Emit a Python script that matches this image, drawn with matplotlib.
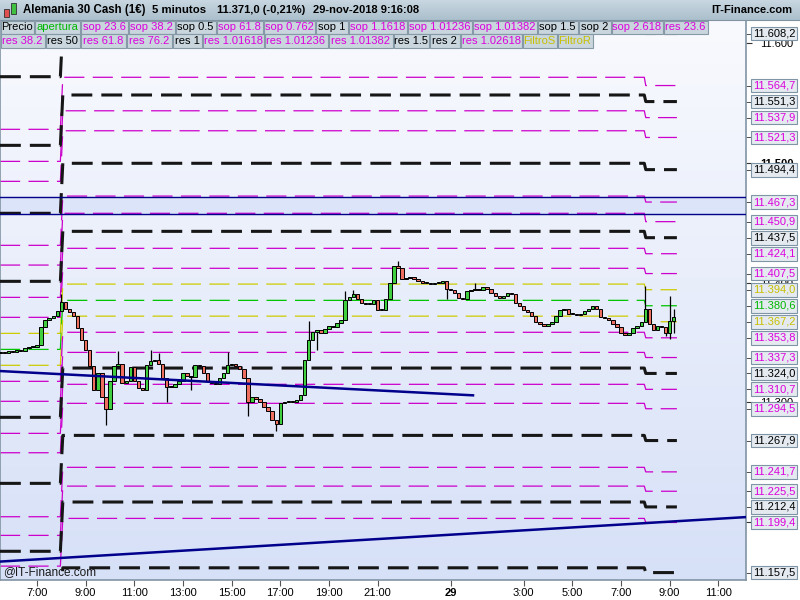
import numpy as np
import matplotlib
matplotlib.use("Agg")
import matplotlib.pyplot as plt
from matplotlib.colors import LinearSegmentedColormap
from matplotlib.patches import Rectangle
from matplotlib.transforms import blended_transform_factory

plt.rcParams['font.family'] = ['Liberation Sans', 'DejaVu Sans']
plt.rcParams['lines.scale_dashes'] = False

# 10 minute closes, 28-nov 5:30 -> 29-nov 9:10 (hours counted from 28-nov 0:00)
bar_start = 5.5
first_open = 11341
closes = [
    11342, 11341, 11343, 11342, 11344, 11343, 11345, 11346, 11346, 11348, 11363, 11369, 11370, 11372, 11376,
    11384, 11378, 11375, 11372, 11362, 11352,
    11344, 11330, 11310, 11324, 11304, 11294,
    11318, 11330, 11332, 11316, 11318, 11329,
    11318, 11312, 11310, 11331, 11334, 11335,
    11332, 11320, 11313, 11313, 11315, 11318,
    11324, 11322, 11321, 11331, 11330, 11324,
    11318, 11316, 11315, 11320, 11324, 11331,
    11332, 11330, 11328, 11320, 11300, 11304,
    11303, 11300, 11296, 11293, 11285, 11282,
    11299, 11300, 11301, 11300, 11302, 11306,
    11335, 11352, 11359, 11360, 11358, 11361,
    11364, 11363, 11366, 11369, 11385, 11388,
    11390, 11386, 11383, 11382, 11382, 11385,
    11377, 11377, 11386, 11400, 11414, 11412,
    11403, 11404, 11405, 11403, 11401, 11400,
    11400, 11399, 11400, 11400, 11401, 11395,
    11394, 11391, 11387, 11386, 11393, 11394,
    11395, 11394, 11396, 11395, 11391, 11389,
    11387, 11389, 11391, 11390, 11383, 11380,
    11377, 11375, 11372, 11367, 11365, 11364,
    11365, 11367, 11372, 11377, 11378, 11374,
    11374, 11373, 11374, 11376, 11378, 11380,
    11378, 11371, 11370, 11369, 11365, 11363,
    11358, 11356, 11358, 11362, 11364, 11367,
    11378, 11365, 11360, 11364, 11363, 11358,
    11368, 11371,
]
# visible wicks (time in hours -> price)
wick_hi = {8.0: 11390, 10.333: 11343, 11.667: 11344, 12.0: 11341, 14.833: 11342,
           18.167: 11368, 19.667: 11393, 20.0: 11394, 21.833: 11418, 25.0: 11400,
           32.0: 11397, 33.0: 11389, 33.167: 11378}
wick_lo = {9.833: 11281, 12.333: 11300, 13.333: 11310, 15.667: 11288, 16.833: 11276,
           18.5: 11344, 23.833: 11386, 32.833: 11355, 33.0: 11353, 33.167: 11358}

# pivot levels: 27-nov (left), 28-nov (main), 29-nov (right)
level_kind = ['k', 'm', 'k', 'm', 'm', 'k', 'm', 'm', 'k', 'm', 'm', 'y', 'g', 'y',
              'm', 'm', 'k', 'm', 'm', 'k', 'm', 'm', 'k', 'm', 'k']
levels_27 = [11572.1, 11528.1, 11514.7, 11501.3, 11484.6, 11457.9, 11431.1, 11414.6, 11401.0,
             11387.6, 11370.9, 11357.5, 11344.1, 11330.8, 11317.4, 11300.7, 11287.3, 11273.9,
             11257.7, 11232.1, 11204.2, 11188.6, 11175.3, 11162.9, 11120.0]
levels_28 = [11613.5, 11571.6, 11556.8, 11543.6, 11526.9, 11499.7, 11472.3, 11457.9, 11442.8,
             11428.6, 11411.9, 11398.7, 11385.1, 11371.9, 11358.4, 11341.6, 11328.5, 11314.9,
             11299.0, 11272.2, 11245.5, 11229.8, 11216.5, 11202.8, 11161.5]
levels_29 = [11608.2, 11564.7, 11551.3, 11537.9, 11521.3, 11494.4, 11467.3, 11450.9, 11437.5,
             11424.1, 11407.5, 11394.0, 11380.6, 11367.2, 11353.8, 11337.3, 11324.0, 11310.7,
             11294.5, 11267.9, 11241.7, 11225.5, 11212.4, 11199.4, 11157.5]
session_switch = [8.0, 32.0]
level_end = 33.3

band_lo, band_hi = 11457.3, 11471.2
trend1_t, trend1_p = [5.479, 24.92], [11326.0, 11305.7]
trend2_t, trend2_p = [5.479, 36.14], [11166.7, 11203.9]

xtick_pos = [7, 9, 11, 13, 15, 17, 19, 21, 24, 27, 29, 31, 33, 35]
xtick_lab = ["7:00", "9:00", "11:00", "13:00", "15:00", "17:00", "19:00", "21:00", "29",
             "3:00", "5:00", "7:00", "9:00", "11:00"]
ytick_pos = [11200, 11300, 11400, 11500, 11600]

row1 = ["Precio", "apertura", "sop 23.6", "sop 38.2", "sop 0.5", "sop 61.8", "sop 0.762", "sop 1",
        "sop 1.1618", "sop 1.01236", "sop 1.01382", "sop 1.5", "sop 2", "sop 2.618", "res 23.6"]
row1_kind = ['k', 'g', 'm', 'm', 'k', 'm', 'm', 'k', 'm', 'm', 'm', 'k', 'k', 'm', 'm']
row1_edges = [0, 34, 80, 128, 175, 216, 263, 315, 348, 407, 472, 537, 578, 611, 663, 708]
row2 = ["res 38.2", "res 50", "res 61.8", "res 76.2", "res 1", "res 1.01618", "res 1.01236",
        "res 1.01382", "res 1.5", "res 2", "res 1.02618", "FiltroS", "FiltroR"]
row2_kind = ['m', 'k', 'm', 'm', 'k', 'm', 'm', 'm', 'k', 'k', 'm', 'y', 'y']
row2_edges = [0, 45, 80, 126, 172, 202, 264, 328, 393, 429, 460, 522, 557, 593]

line_col = {'k': '#161616', 'm': '#cc00cc', 'y': '#cccc00', 'g': '#00c400'}
text_col = {'k': '#000000', 'm': '#dd00dd', 'y': '#c8c000', 'g': '#00b800'}


def fmt_price(p):
    s = "{:,.1f}".format(p)
    return s.replace(',', 'X').replace('.', ',').replace('X', '.')


fig = plt.figure(figsize=(8, 6), dpi=100)
fig.patch.set_facecolor('white')
ax = fig.add_axes([0, 20 / 600, 746 / 800, 560 / 600])
xmin, xmax = 5.479, 36.14
ymin, ymax = 11151.3, 11619.5

# background gradient
cmap = LinearSegmentedColormap.from_list('bg', ['#d6e0f7', '#f9fafe'])
ax.imshow(np.linspace(0, 1, 256).reshape(-1, 1), cmap=cmap, extent=[0, 1, 0, 1],
          transform=ax.transAxes, aspect='auto', origin='lower', zorder=0)

# blue band
ax.axhspan(band_lo, band_hi, color='#dce4fa', zorder=1)
ax.axhline(band_lo, color='#000088', lw=1.0, zorder=4)
ax.axhline(band_hi, color='#000088', lw=1.0, zorder=4)

# levels
for kind, a, b, c in zip(level_kind, levels_27, levels_28, levels_29):
    ts = [xmin, session_switch[0] - 0.04, session_switch[0] + 0.06,
          session_switch[1] - 0.04, session_switch[1] + 0.02, level_end]
    ps = [a, a, b, b, c, c]
    if kind == 'k':
        ax.plot(ts, ps, color=line_col[kind], lw=2.2, dashes=(15, 6.5), zorder=3,
                solid_joinstyle='miter')
    else:
        ax.plot(ts, ps, color=line_col[kind], lw=0.9, dashes=(14.5, 6), zorder=2)

# trend lines
ax.plot(trend1_t, trend1_p, color='#00008c', lw=1.8, zorder=7)
ax.plot(trend2_t, trend2_p, color='#00008c', lw=1.8, zorder=7)

# candles
closes = np.array(closes, dtype=float)
times = bar_start + np.arange(len(closes)) / 6
opens = np.concatenate([[first_open], closes[:-1]])
highs = np.maximum(opens, closes)
lows = np.minimum(opens, closes)
for t, v in wick_hi.items():
    highs[int(round((t - bar_start) * 6))] = v
for t, v in wick_lo.items():
    lows[int(round((t - bar_start) * 6))] = v
up = closes >= opens
body = np.where(np.abs(closes - opens) < 0.8, 0.8, closes - opens)
ax.vlines(times, lows, highs, color='black', lw=0.9, zorder=5)
ax.bar(times, body, bottom=opens, width=0.14,
       color=np.where(up, '#3fcf3f', '#ee6f5f'), edgecolor='black', lw=0.7, zorder=6)

ax.set_xlim(xmin, xmax)
ax.set_ylim(ymin, ymax)

# axes styling
for side in ['left', 'right', 'bottom']:
    ax.spines[side].set_color('#8194a4')
    ax.spines[side].set_linewidth(1.2)
ax.spines['top'].set_visible(False)

ax.set_xticks(xtick_pos)
ax.set_xticklabels(xtick_lab, fontsize=8)
for lab in ax.get_xticklabels():
    if lab.get_text() == "29":
        lab.set_fontweight('bold')
ax.tick_params(axis='x', direction='out', length=4, pad=2, color='#555555')

ax.yaxis.tick_right()
ax.set_yticks(ytick_pos)
ax.set_yticklabels([fmt_price(v)[:-2] for v in ytick_pos], fontsize=8)
for lab in ax.get_yticklabels():
    if lab.get_text() == "11.500":
        lab.set_fontweight('bold')
ax.set_yticks(levels_29, minor=True)
ax.tick_params(axis='y', which='major', direction='out', length=4, pad=6, color='#333333')
ax.tick_params(axis='y', which='minor', direction='out', length=5, color='#333333')

# price boxes on the right scale
tr = blended_transform_factory(ax.transAxes, ax.transData)
for p, kind in zip(levels_29, level_kind):
    ax.text(1.0095, p, fmt_price(p), transform=tr, ha='left', va='center', fontsize=8,
            color=text_col[kind], clip_on=False, zorder=20,
            bbox=dict(boxstyle='square,pad=0.17', fc='#e4eaf0', ec='#7f94a4', lw=0.8))

ax.text(0.004, 0.0135, "@IT-Finance.com", transform=ax.transAxes, fontsize=8.5,
        color='#1a1a1a', va='center', ha='left', zorder=8)

# header and buttons overlay
ov = fig.add_axes([0, 0, 1, 1], zorder=10)
ov.axis('off')
ov.patch.set_alpha(0)

hcmap = LinearSegmentedColormap.from_list('hd', ['#c8d7e1', '#abbfcc'])
ov.imshow(np.linspace(0, 1, 64).reshape(-1, 1), cmap=hcmap, extent=[0, 800, 20, 0],
          aspect='auto', zorder=1)
ov.plot([0, 800], [20, 20], color='#7f93a2', lw=0.8, zorder=2)
ov.set_xlim(0, 800)
ov.set_ylim(600, 0)

# small candle icon
ov.add_patch(Rectangle((4, 9), 5, 8, fc='#e05050', ec='#303030', lw=0.6, zorder=3))
ov.add_patch(Rectangle((11, 3), 5, 11, fc='#40c040', ec='#303030', lw=0.6, zorder=3))

ov.text(23, 10, "Alemania 30 Cash (1€)", fontsize=8.3, fontweight='bold', va='center', zorder=3)
ov.text(152, 10, "5 minutos", fontsize=8.2, fontweight='bold', va='center', zorder=3)
ov.text(217, 10, "11.371,0 (-0,21%)", fontsize=8.0, fontweight='bold', va='center', zorder=3)
ov.text(313, 10, "29-nov-2018 9:16:08", fontsize=8.0, fontweight='bold', va='center', zorder=3)
ov.text(792, 10, "IT-Finance.com", fontsize=8.0, fontweight='bold', va='center', ha='right',
        zorder=3)

for labels, kinds, edges, y0 in [(row1, row1_kind, row1_edges, 20.5), (row2, row2_kind, row2_edges, 34.3)]:
    for i, (lab, kind) in enumerate(zip(labels, kinds)):
        x0, x1 = edges[i], edges[i + 1]
        ov.add_patch(Rectangle((x0 + 0.5, y0), x1 - x0 - 1, 13.4, fc='#c9d6de', ec='#8599a7',
                               lw=0.8, zorder=3))
        ov.text((x0 + x1) / 2, y0 + 7, lab, fontsize=8, color=text_col[kind], ha='center',
                va='center', zorder=4)

fig.savefig("out.png", dpi=100)
